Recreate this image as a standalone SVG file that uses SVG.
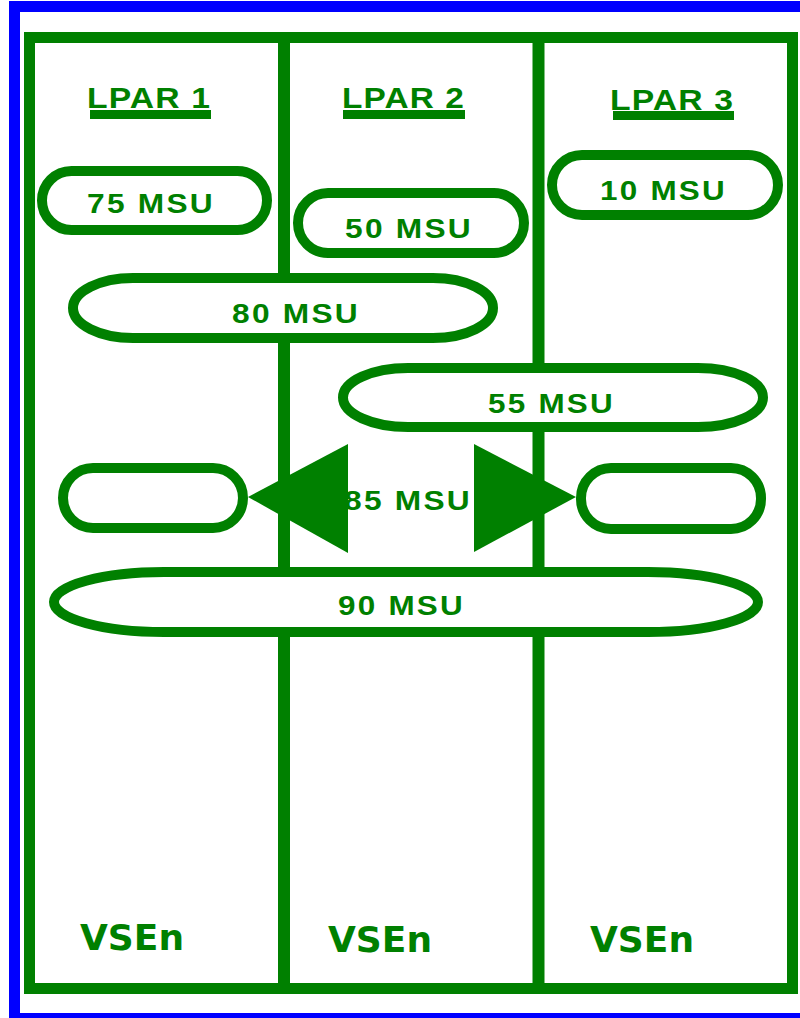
<svg xmlns="http://www.w3.org/2000/svg" width="800" height="1018" viewBox="0 0 800 1018">
  <style>
    .frame { fill: none; stroke: #008000; stroke-width: 11; }
    .divider { stroke: #008000; stroke-width: 12; }
    .pill { fill: #ffffff; stroke: #008000; stroke-width: 10; }
    .msu { font-family: "Liberation Sans", Arial, sans-serif; font-weight: bold; font-size: 28px; letter-spacing: 2px; fill: #008000; }
    .lpar { font-family: "Liberation Sans", Arial, sans-serif; font-weight: bold; font-size: 30px; letter-spacing: 1px; fill: #008000; }
    .bar { fill: #008000; }
    .os { font-family: "DejaVu Sans", Verdana, sans-serif; font-weight: bold; font-size: 36px; fill: #008000; }
    .arrow { fill: #008000; }
  </style>

  <!-- page background and outer blue border -->
  <rect x="0" y="0" width="800" height="1018" fill="#ffffff"/>
  <rect x="14.5" y="6.5" width="800" height="1012" fill="none" stroke="#0000ff" stroke-width="11"/>

  <!-- machine frame split into three partitions -->
  <g id="frame">
    <rect class="frame" x="29.5" y="37.5" width="763" height="951"/>
    <line class="divider" x1="284" y1="37" x2="284" y2="989"/>
    <line class="divider" x1="538.5" y1="37" x2="538.5" y2="989"/>
  </g>

  <!-- partition headings -->
  <g id="lpar1">
    <text class="lpar" x="87" y="108" textLength="124" lengthAdjust="spacingAndGlyphs">LPAR 1</text>
    <rect class="bar" x="90" y="110" width="121" height="9"/>
  </g>
  <g id="lpar2">
    <text class="lpar" x="342" y="108" textLength="123" lengthAdjust="spacingAndGlyphs">LPAR 2</text>
    <rect class="bar" x="343" y="110" width="122" height="9"/>
  </g>
  <g id="lpar3">
    <text class="lpar" x="610" y="110" textLength="124" lengthAdjust="spacingAndGlyphs">LPAR 3</text>
    <rect class="bar" x="613" y="111" width="121" height="9"/>
  </g>

  <!-- workload capacities -->
  <g id="msu75">
    <rect class="pill" x="42" y="171" width="225" height="59" rx="29.5"/>
    <text class="msu" x="87" y="213" textLength="128" lengthAdjust="spacingAndGlyphs">75 MSU</text>
  </g>
  <g id="msu50">
    <rect class="pill" x="298" y="193" width="226" height="60" rx="30"/>
    <text class="msu" x="345" y="238" textLength="128" lengthAdjust="spacingAndGlyphs">50 MSU</text>
  </g>
  <g id="msu10">
    <rect class="pill" x="552" y="155" width="226" height="60" rx="30"/>
    <text class="msu" x="600" y="200" textLength="127" lengthAdjust="spacingAndGlyphs">10 MSU</text>
  </g>
  <g id="msu80">
    <rect class="pill" x="73" y="278" width="420" height="60" rx="60" ry="30"/>
    <text class="msu" x="232" y="323" textLength="128" lengthAdjust="spacingAndGlyphs">80 MSU</text>
  </g>
  <g id="msu55">
    <rect class="pill" x="343" y="368" width="420" height="59" rx="65" ry="29.5"/>
    <text class="msu" x="488" y="413" textLength="127" lengthAdjust="spacingAndGlyphs">55 MSU</text>
  </g>
  <g id="msu85">
    <text class="msu" x="344" y="510" textLength="128" lengthAdjust="spacingAndGlyphs">85 MSU</text>
  </g>
  <g id="left-box">
    <rect class="pill" x="63" y="468" width="180" height="60" rx="30"/>
  </g>
  <g id="right-box">
    <rect class="pill" x="581" y="468" width="180" height="61" rx="30"/>
  </g>
  <g id="msu90">
    <rect class="pill" x="54" y="572" width="704" height="60" rx="110" ry="30"/>
    <text class="msu" x="338" y="615" textLength="127" lengthAdjust="spacingAndGlyphs">90 MSU</text>
  </g>

  <!-- spreading arrows -->
  <g id="connectors">
    <polygon class="arrow" points="248,497 348,444 348,553"/>
    <polygon class="arrow" points="576,497 474,444 474,552"/>
  </g>

  <!-- operating system labels -->
  <g id="os1"><text class="os" x="80" y="950">VSEn</text></g>
  <g id="os2"><text class="os" x="328" y="952">VSEn</text></g>
  <g id="os3"><text class="os" x="590" y="952">VSEn</text></g>
</svg>
